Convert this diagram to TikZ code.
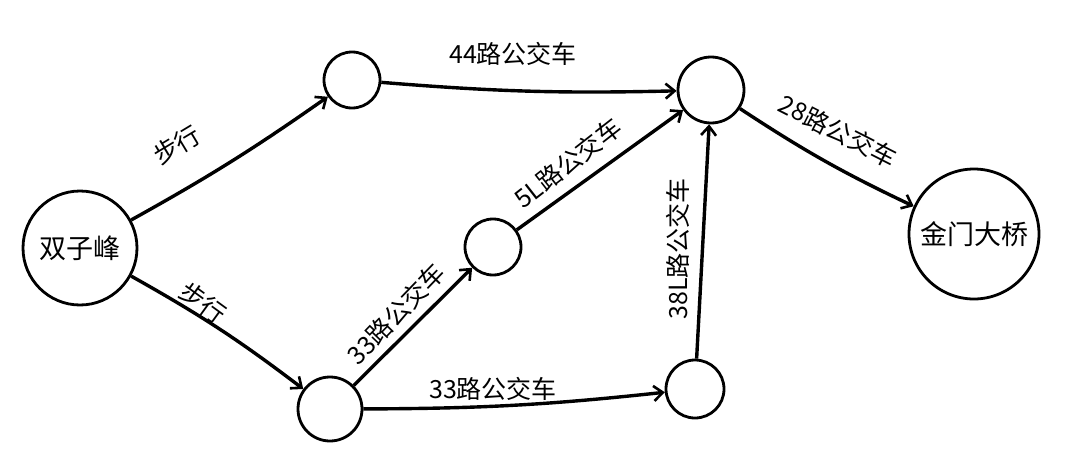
\documentclass[tikz,border=0pt]{standalone}
\usepackage{fontspec}
\setmainfont{Noto Sans CJK SC}[BoldFont={Noto Sans CJK SC}]
\usetikzlibrary{arrows.meta}
\begin{document}
\begin{tikzpicture}[x=1pt,y=-1pt,
  stop/.style={draw,circle,line width=2.8pt,inner sep=0pt},
  conn/.style={line width=3.4pt,-{Straight Barb[length=9pt,width=15pt,line width=2.6pt]}},
  lbl/.style={font=\fontsize{25}{27}\selectfont,inner sep=1pt}]
\useasboundingbox (0,0) rectangle (1080,471);
\fill[white] (0,0) rectangle (1080,471);
\node[stop,minimum size=114pt,font=\fontsize{27}{29}\selectfont] (S) at (80,248) {双子峰};
\node[stop,minimum size=56pt] (A) at (352,80) {};
\node[stop,minimum size=66pt] (B) at (711,90) {};
\node[stop,minimum size=56pt] (C) at (493,247) {};
\node[stop,minimum size=64pt] (D) at (330,409) {};
\node[stop,minimum size=58pt] (E) at (695,389) {};
\node[stop,minimum size=130pt,font=\fontsize{27}{29}\selectfont] (G) at (974,234) {金门大桥};
\draw[conn] (S) to[bend right=3] (A);
\draw[conn] (S) to[bend left=4] (D);
\draw[conn] (A) to[bend right=3] (B);
\draw[conn] (D) -- (C);
\draw[conn] (C) -- (B);
\draw[conn] (D) to[bend right=3] (E);
\draw[conn] (E) -- (B);
\draw[conn] (B) to[bend right=4] (G);
\node[lbl,rotate=31] (l1) at (177,145) {步行};
\node[lbl,rotate=-36] (l2) at (203,303) {步行};
\node[lbl] (l3) at (513,54) {44路公交车};
\node[lbl,rotate=38] (l4) at (568,163) {5L路公交车};
\node[lbl,rotate=46] (l5) at (396,314) {33路公交车};
\node[lbl] (l6) at (493,389) {33路公交车};
\node[lbl,rotate=90] (l7) at (678,249) {38L路公交车};
\node[lbl,rotate=-27] (l8) at (838,131) {28路公交车};
\end{tikzpicture}
\end{document}
